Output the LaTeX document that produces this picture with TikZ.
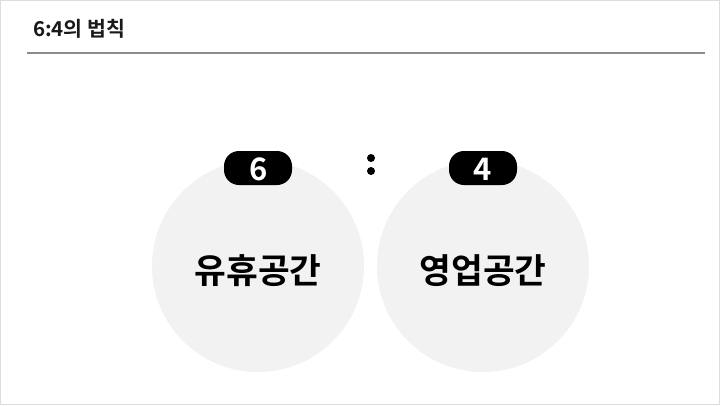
\documentclass[tikz,border=0pt]{standalone}
\usepackage{fontspec}
\setmainfont[BoldFont={Noto Sans CJK KR Bold}]{Noto Sans CJK KR}
\definecolor{circ}{HTML}{F2F2F2}
\definecolor{frameg}{HTML}{DDDDDD}
\definecolor{ruleg}{HTML}{8C8C8C}
\tikzset{
  x=1pt,y=-1pt,
  bigcirc/.style={circle,fill=circ,draw=none,minimum size=212pt,inner sep=0pt},
  biglabel/.style={inner sep=0pt,font=\bfseries\fontsize{34.5}{34.5}\selectfont},
  pill/.style={rectangle,rounded corners=15pt,fill=black,minimum width=68pt,minimum height=34pt,inner sep=0pt},
  pilllabel/.style={inner sep=0pt,text=white,font=\bfseries\fontsize{31}{31}\selectfont},
  dotn/.style={circle,fill=black,minimum size=8pt,inner sep=0pt},
}
\begin{document}
\begin{tikzpicture}
\useasboundingbox (0,0) rectangle (720,405);
\fill[white] (0,0) rectangle (720,405);
\draw[frameg,line width=1.5pt] (0.5,0.5) rectangle (719.5,404.5);
\node[anchor=west,font=\bfseries\fontsize{20.5}{20.5}\selectfont,text=black!90] (title) at (29.5,29) {6:4의 법칙};
\coordinate (ruleA) at (27,53);
\coordinate (ruleB) at (705,53);
\draw[ruleg,line width=1.5pt] (ruleA) -- (ruleB);
\node[bigcirc] (rest) at (258,266) {};
\node[bigcirc] (sales) at (483,266) {};
\node[biglabel] (restlabel) at (258,270.5) {유휴공간};
\node[biglabel] (saleslabel) at (483,270.5) {영업공간};
\node[pill] (six) at (258,168) {};
\node[pill] (four) at (483,168) {};
\node[pilllabel] (sixlabel) at (259,169) {6};
\node[pilllabel] (fourlabel) at (483,169) {4};
\node[dotn] (dota) at (371,158) {};
\node[dotn] (dotb) at (371,171) {};
\end{tikzpicture}
\end{document}
